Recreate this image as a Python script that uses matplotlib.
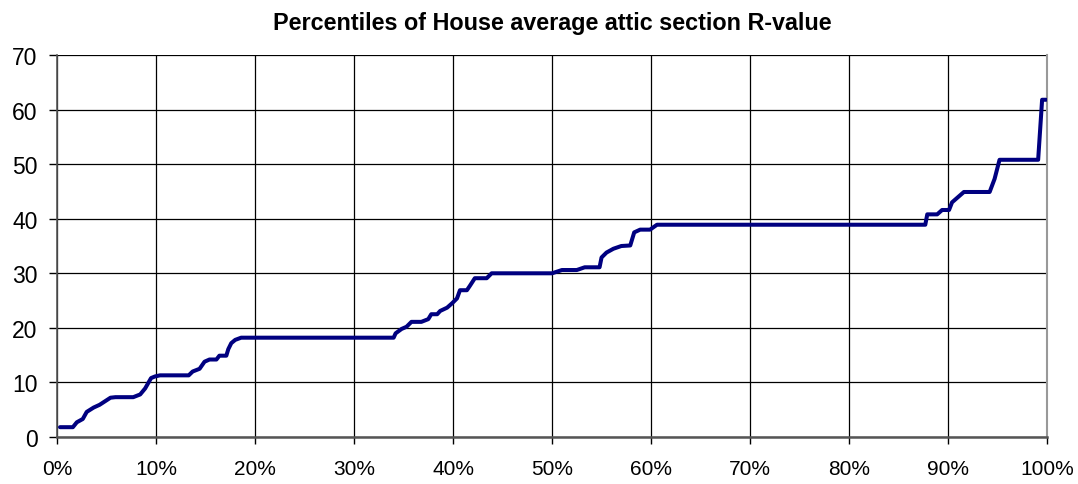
import matplotlib
matplotlib.use("Agg")
import matplotlib.pyplot as plt
from matplotlib.ticker import PercentFormatter

plt.rcParams['font.family'] = ['Liberation Sans', 'DejaVu Sans']

# percentile (%) and R-value
pct = [0.3, 1.6, 2.0, 2.6, 3.0, 3.7, 4.3, 5.4, 5.9, 7.7, 8.4, 8.9, 9.5, 9.9, 10.4,
       13.3, 13.7, 14.4, 14.9, 15.4, 16.1, 16.4, 17.1, 17.3, 17.6, 18.0, 18.6,
       34.0, 34.2, 34.8, 35.3, 35.8, 36.8, 37.5, 37.8, 38.4, 38.7, 39.4, 39.9,
       40.4, 40.7, 41.4, 41.7, 42.2, 43.4, 43.9, 50.0, 51.0, 52.5, 53.3, 54.8,
       55.0, 55.5, 56.2, 57.0, 57.9, 58.3, 58.9, 59.9, 60.6, 87.7, 87.9, 88.9,
       89.4, 90.1, 90.4, 91.6, 94.2, 94.7, 95.2, 99.1, 99.5, 99.9]
rvalue = [1.8, 1.8, 2.7, 3.3, 4.6, 5.4, 5.9, 7.2, 7.3, 7.3, 7.8, 8.9, 10.8, 11.1, 11.3,
          11.3, 12.0, 12.5, 13.8, 14.2, 14.2, 14.9, 14.9, 16.1, 17.2, 17.8, 18.2,
          18.2, 19.0, 19.8, 20.2, 21.1, 21.1, 21.6, 22.5, 22.5, 23.1, 23.7, 24.5,
          25.4, 26.9, 26.9, 27.7, 29.1, 29.1, 30.0, 30.0, 30.6, 30.6, 31.1, 31.1,
          32.9, 33.8, 34.5, 35.0, 35.1, 37.5, 38.0, 38.0, 38.9, 38.9, 40.8, 40.8,
          41.6, 41.6, 43.0, 44.9, 44.9, 47.3, 50.8, 50.8, 61.8, 61.8]

title = "Percentiles of House average attic section R-value"

fig = plt.figure(figsize=(10.78, 4.85), dpi=100)
ax = fig.add_axes([0.0529, 0.0969, 0.9184, 0.7876])

ax.plot(pct, rvalue, color="#000080", linewidth=2.9, solid_joinstyle="round",
        solid_capstyle="round", zorder=3)

ax.set_xlim(0, 100)
ax.set_ylim(0, 70)
ax.set_xticks(range(0, 101, 10))
ax.set_yticks(range(0, 71, 10))
ax.xaxis.set_major_formatter(PercentFormatter(decimals=0))
ax.grid(True, color="black", linewidth=0.9)
ax.set_axisbelow(True)

ax.spines["top"].set_visible(False)
ax.spines["right"].set_color("#999999")
ax.spines["right"].set_linewidth(1.5)
ax.spines["left"].set_color("#555555")
ax.spines["left"].set_linewidth(1.2)
ax.spines["bottom"].set_color("#555555")
ax.spines["bottom"].set_linewidth(1.8)

ax.tick_params(axis="y", direction="out", length=6, width=1, labelsize=16.5, pad=8)
ax.tick_params(axis="x", direction="out", length=5, width=1, labelsize=15, pad=11)

ax.set_title(title, fontsize=16.8, fontweight="bold", pad=19)

fig.savefig("out.png", dpi=100)
